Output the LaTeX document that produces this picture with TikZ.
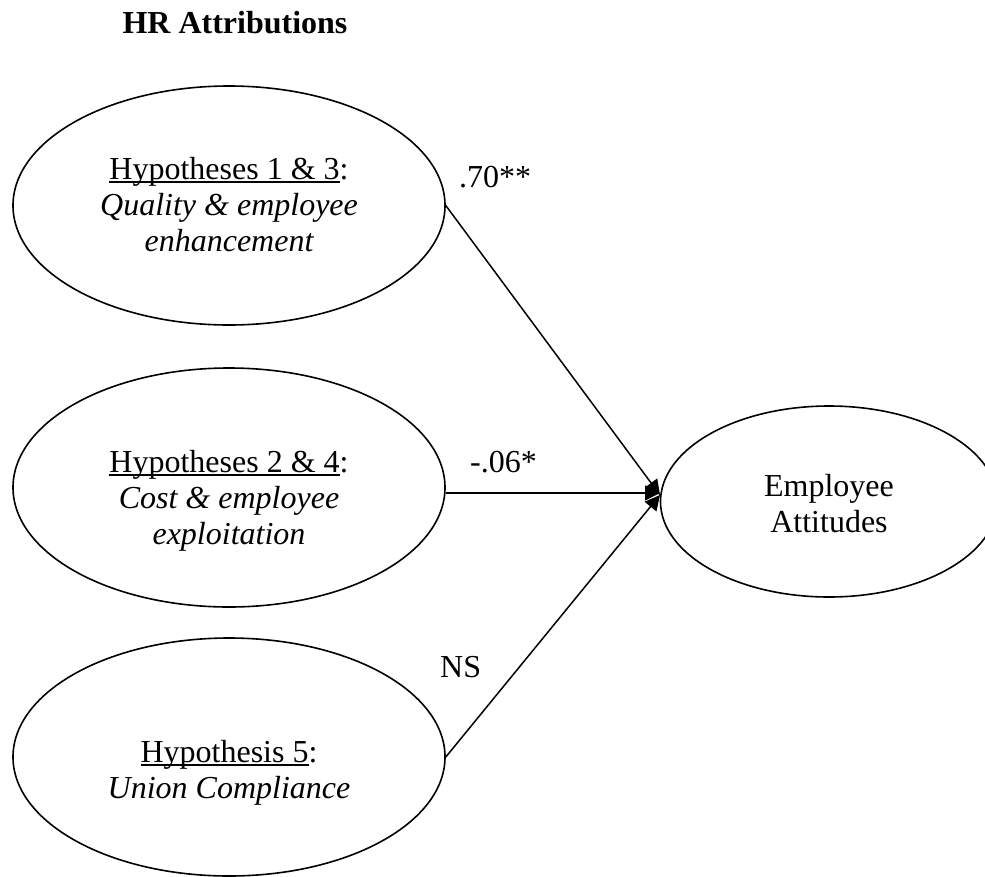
\documentclass[tikz,border=0pt]{standalone}
\usepackage{fontspec}
\setmainfont{Liberation Serif}
\usetikzlibrary{shapes.geometric,arrows.meta}
\newsavebox\myulbox
\newcommand\myul[1]{\sbox\myulbox{#1}\rlap{\rule[-3.5pt]{\wd\myulbox}{1.6pt}}\usebox\myulbox}
\begin{document}
\begin{tikzpicture}[x=1pt,y=-1pt,
  oval/.style={draw,line width=1.6pt,ellipse,inner sep=0pt},
  txt/.style={anchor=base,inner sep=0pt,font=\fontsize{32}{36}\selectfont},
  conn/.style={line width=1.5pt,-{Triangle[length=15pt,width=15pt]}}]
\useasboundingbox (0,0) rectangle (985,876);
% title
\node[txt,font=\fontsize{32}{36}\selectfont\bfseries] (title) at (235,33) {HR Attributions};
% ellipses
\node[oval,minimum width=432pt,minimum height=239pt] (e1) at (229,205.5) {};
\node[oval,minimum width=432pt,minimum height=239pt] (e2) at (229,487.5) {};
\node[oval,minimum width=432pt,minimum height=238pt] (e3) at (229,757) {};
\node[oval,minimum width=337pt,minimum height=191pt] (ea) at (829,501.5) {};
% ellipse texts
\node[txt] (h1) at (229,179) {\myul{Hypotheses 1 \& 3}:};
\node[txt] (h1b) at (229,215) {\itshape Quality \& employee};
\node[txt] (h1c) at (229,251) {\itshape enhancement};
\node[txt] (h2) at (229,472) {\myul{Hypotheses 2 \& 4}:};
\node[txt] (h2b) at (229,508) {\itshape Cost \& employee};
\node[txt] (h2c) at (229,544) {\itshape exploitation};
\node[txt] (h3) at (229,762) {\myul{Hypothesis 5}:};
\node[txt] (h3b) at (229,798) {\itshape Union Compliance};
\node[txt] (ea1) at (829,496) {Employee};
\node[txt] (ea2) at (829,532) {Attitudes};
% connectors
\coordinate (tip) at (660,495);
\draw[conn] (e1.east) -- (tip);
\draw[conn] (e2.east |- 0,493) -- (tip |- 0,493);
\draw[conn] (e3.east) -- (tip);
% labels
\node[txt,anchor=base west] (l1) at (459,187) {.70**};
\node[txt,anchor=base west] (l2) at (470,472) {-.06*};
\node[txt,anchor=base west] (l3) at (440,677) {NS};
\end{tikzpicture}
\end{document}
